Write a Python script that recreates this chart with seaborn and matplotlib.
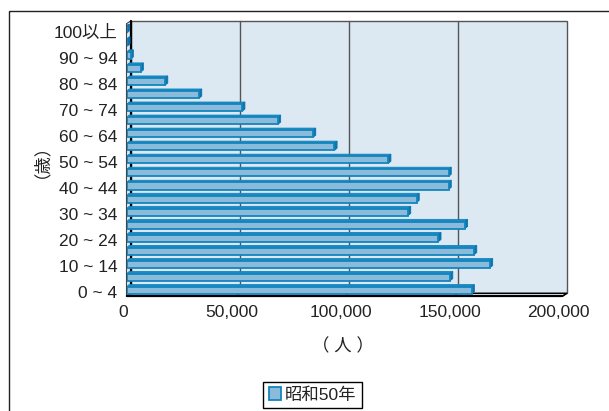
import numpy as np
import pandas as pd
import matplotlib
matplotlib.use('Agg')
import matplotlib.pyplot as plt
import matplotlib.transforms as mtrans
from matplotlib.patches import Polygon, Rectangle, Patch
import seaborn as sns

# ---------------- data ----------------
age_groups = ['0 ~ 4', '5 ~ 9', '10 ~ 14', '15 ~ 19', '20 ~ 24', '25 ~ 29',
              '30 ~ 34', '35 ~ 39', '40 ~ 44', '45 ~ 49', '50 ~ 54', '55 ~ 59',
              '60 ~ 64', '65 ~ 69', '70 ~ 74', '75 ~ 79', '80 ~ 84', '85 ~ 89',
              '90 ~ 94', '95 ~ 99', '100以上']
population = [158400, 148500, 166800, 159500, 143100, 155300,
              129200, 133100, 147800, 147800, 120100, 95400,
              85600, 69500, 53100, 33300, 17700, 6500,
              1900, 400, 100]
x_ticks = [0, 50000, 100000, 150000, 200000]
x_tick_labels = ['0', '50,000', '100,000', '150,000', '200,000']
series_name = '昭和50年'
x_label = '（ 人 ）'
y_label = '（歳）'

# ---------------- style ----------------
sns.set_style('white')
plt.rcParams['font.family'] = ['Liberation Sans', 'Noto Sans CJK JP']
FS = 12.5
TXT = '#222222'
FACE = '#8bbbdb'
EDGE = '#1385be'
TOPF = '#1a8ac4'
SIDEF = '#0b74ad'
WALL = '#dce8f2'

W, H = 609, 411
fig = plt.figure(figsize=(W / 100, H / 100), dpi=100)
pxT = mtrans.Affine2D().scale(1 / W, -1 / H).translate(0, 1) + fig.transFigure

def px_rect(l, t, r, b):
    return [l / W, 1 - b / H, (r - l) / W, (b - t) / H]

# front plane of the 3-D box
FL, FT, FR, FB = 126.5, 23.7, 562.3, 296.3
ax = fig.add_axes(px_rect(FL, FT, FR, FB))
ax.patch.set_visible(False)

# depth offset of back wall (pixels: right, up)
DX, DY = 4.5, 3.0
dxa, dya = DX / (FR - FL), DY / (FB - FT)
back_off = mtrans.ScaledTranslation(DX / 100, DY / 100, fig.dpi_scale_trans)

# ---------------- bars ----------------
df = pd.DataFrame({'age': age_groups, 'population': population})
order = age_groups[::-1]
sns.barplot(data=df, x='population', y='age', order=order, orient='h',
            color=FACE, saturation=1, edgecolor=EDGE, linewidth=1.3,
            width=0.54, ax=ax, zorder=3)
ax.set_xlim(x_ticks[0], x_ticks[-1])
ax.set_ylim(len(order) - 1 + 0.46, -0.445)

bars = list(ax.patches)

# ---------------- 3-D box ----------------
# back wall
ax.add_patch(Rectangle((0, 0), 1, 1, transform=ax.transAxes + back_off,
                       facecolor=WALL, edgecolor='#555555', lw=1.0,
                       zorder=0, clip_on=False))
# gridlines on back wall
for v in x_ticks[1:-1]:
    ax.plot([v, v], [0, 1], transform=ax.get_xaxis_transform() + back_off,
            color='#555555', lw=1.0, zorder=0.5, clip_on=False)
# left wall
ax.add_patch(Polygon([(0, 0), (0, 1), (dxa, 1 + dya), (dxa, dya)],
                     closed=True, transform=ax.transAxes, facecolor=WALL,
                     edgecolor='#444444', lw=0.8, zorder=0.6, clip_on=False))
ax.plot([dxa, dxa], [dya, 1 + dya], transform=ax.transAxes, color='black',
        lw=1.6, zorder=0.7, clip_on=False)
# floor
ax.add_patch(Polygon([(0, 0), (1, 0), (1 + dxa, dya), (dxa, dya)],
                     closed=True, transform=ax.transAxes, facecolor='#e4ecf3',
                     edgecolor='black', lw=1.0, zorder=0.8, clip_on=False))
ax.plot([0, 1], [0, 0], transform=ax.transAxes, color='black', lw=1.6,
        zorder=0.9, clip_on=False)
for v in x_ticks:
    xf = (v - x_ticks[0]) / (x_ticks[-1] - x_ticks[0])
    ax.plot([xf, xf + dxa], [0, dya], transform=ax.transAxes, color='black',
            lw=1.0, zorder=0.9, clip_on=False)

# 3-D faces of the bars, derived from the drawn bar rectangles
fig.canvas.draw()
inv = ax.transData.inverted()
BX, BY = 2.7, 2.2
for p in bars:
    x0, y0 = p.get_x(), p.get_y()
    x1, y1 = x0 + p.get_width(), y0 + p.get_height()
    (dx0, dya0), (dx1, dya1) = ax.transData.transform([(x0, y0), (x1, y1)])
    top = max(dya0, dya1)
    bot = min(dya0, dya1)
    left, right = min(dx0, dx1), max(dx0, dx1)
    top_face = [(left, top), (right, top), (right + BX, top + BY), (left + BX, top + BY)]
    side_face = [(right, bot), (right, top), (right + BX, top + BY), (right + BX, bot + BY)]
    ax.add_patch(Polygon(inv.transform(top_face), closed=True, facecolor=TOPF,
                         edgecolor=EDGE, lw=0.6, zorder=2.5))
    ax.add_patch(Polygon(inv.transform(side_face), closed=True, facecolor=SIDEF,
                         edgecolor=SIDEF, lw=0.6, zorder=2.5))

# ---------------- axes text ----------------
for s in ax.spines.values():
    s.set_visible(False)
ax.set_xticks(x_ticks)
ax.set_xticklabels(x_tick_labels)
ytick_pos = [order.index(g) for i, g in enumerate(age_groups) if i % 2 == 0]
ytick_lab = [g for i, g in enumerate(age_groups) if i % 2 == 0]
ax.set_yticks(ytick_pos)
ax.set_yticklabels(ytick_lab)
ax.tick_params(axis='x', length=0, pad=6.4, labelsize=FS, labelcolor=TXT)
ax.tick_params(axis='y', length=0, pad=6.6, labelsize=FS, labelcolor=TXT)
ax.set_xlabel('')
ax.set_ylabel('')
xoff = mtrans.ScaledTranslation(-3.5 / 100, 0, fig.dpi_scale_trans)
for t in ax.get_xticklabels():
    t.set_transform(t.get_transform() + xoff)
yoff = mtrans.ScaledTranslation(0, -2.0 / 100, fig.dpi_scale_trans)
for t in ax.get_yticklabels():
    t.set_transform(t.get_transform() + yoff)

fig.text(32.0, 152.0, y_label, transform=pxT, rotation=90, ha='center',
         va='center', fontsize=FS, color=TXT)
fig.text(342.5, 346, x_label, transform=pxT, ha='center', va='center',
         fontsize=FS, color=TXT)

# outer frame
fig.add_artist(Rectangle((9, 11), 700, 500, transform=pxT, fill=False,
                         edgecolor='#222222', lw=1.0, clip_on=False))

# legend
handle = Patch(facecolor=FACE, edgecolor=EDGE, lw=1.3)
leg = fig.legend([handle], [series_name], loc='center',
                 bbox_to_anchor=(312.5 / W, 1 - 394.8 / H), frameon=True,
                 fancybox=False, edgecolor='black', framealpha=1,
                 borderpad=0.3, handlelength=0.7, handleheight=0.7,
                 handletextpad=0.25, fontsize=FS, borderaxespad=0)
leg.get_frame().set_linewidth(1.0)
for t in leg.get_texts():
    t.set_color(TXT)

fig.savefig('out.png', dpi=100)
